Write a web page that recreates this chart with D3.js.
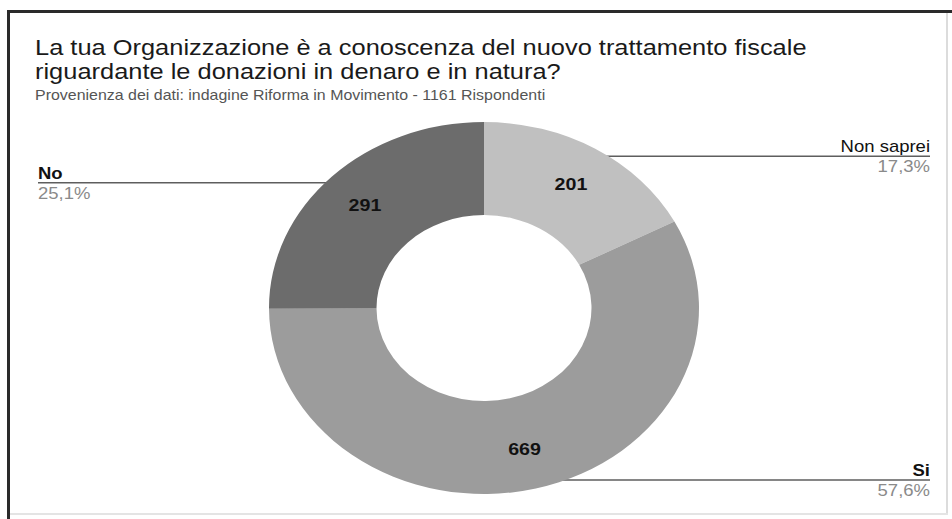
<!DOCTYPE html>
<html>
<head>
<meta charset="utf-8">
<script src="https://cdn.jsdelivr.net/npm/d3@7"></script>
<style>
  html, body { margin: 0; padding: 0; background: #ffffff; }
  svg { display: block; font-family: "Liberation Sans", Arial, Helvetica, sans-serif; }
</style>
</head>
<body>
<svg id="chart" width="952" height="519"></svg>
<script>
// Survey answers, clockwise from 12 o'clock
const categories = ["Non saprei", "Si", "No"];
const counts = [201, 669, 291];
const sliceColors = ["#c0c0c0", "#9c9c9c", "#6c6c6c"];
// Which side of the donut each category's callout goes to
const labelSides = ["right", "right", "left"];
const labelWeights = ["normal", "bold", "bold"];

const titleLines = [
  "La tua Organizzazione è a conoscenza del nuovo trattamento fiscale",
  "riguardante le donazioni in denaro e in natura?"
];
const subtitle = "Provenienza dei dati: indagine Riforma in Movimento - 1161 Rispondenti";

const W = 952, H = 519;
const cx = 484, cy = 308;
const outerR = 215, innerR = 107.5;
const squash = 0.865;          // vertical flattening of the whole drawing
const stretch = 1 / squash;    // matching horizontal widening of the lettering
const leaderR = 205;           // where callout lines meet the slice
const labelR = 168;            // radius of the in-slice value labels

const svg = d3.select("#chart");

// Place a text node at (x, y) with the widened lettering
function putText(sel, x, y) {
  return sel.attr("x", 0).attr("y", 0)
    .attr("transform", `translate(${x},${y}) scale(${stretch},1)`);
}

// Frame
svg.append("rect").attr("x", 0).attr("y", 0).attr("width", W).attr("height", H).attr("fill", "#ffffff");
svg.append("line").attr("x1", 947).attr("x2", 947).attr("y1", 12).attr("y2", 514)
  .attr("stroke", "#dcdcdc").attr("stroke-width", 2);
svg.append("line").attr("x1", 9).attr("x2", 948).attr("y1", 514).attr("y2", 514)
  .attr("stroke", "#e4e4e4").attr("stroke-width", 2);
svg.append("line").attr("x1", 7).attr("x2", W).attr("y1", 11.5).attr("y2", 11.5)
  .attr("stroke", "#2a2a2a").attr("stroke-width", 3);
svg.append("line").attr("x1", 8.5).attr("x2", 8.5).attr("y1", 10).attr("y2", H)
  .attr("stroke", "#2a2a2a").attr("stroke-width", 3);

// Title and subtitle
titleLines.forEach((line, i) => {
  putText(svg.append("text"), 35, 55 + i * 24)
    .attr("font-size", 22).attr("fill", "#1a1a1a")
    .text(line);
});
putText(svg.append("text"), 35, 100)
  .attr("font-size", 13.8).attr("fill", "#555555")
  .text(subtitle);

// Pie layout
const total = d3.sum(counts);
const data = categories.map((c, i) => ({
  name: c, value: counts[i], color: sliceColors[i], side: labelSides[i], weight: labelWeights[i]
}));
const pie = d3.pie().value(d => d.value).sort(null);
const arcs = pie(data);
const arc = d3.arc().innerRadius(innerR).outerRadius(outerR);

const pct = d3.format(".1%");
const fmtPct = v => pct(v).replace(".", ",");

// Position on the flattened donut for a given angle/radius
const pt = (a, r) => [cx + r * Math.sin(a), cy - r * Math.cos(a) * squash];

// Callout lines (drawn beneath the slices)
const callouts = svg.append("g");
arcs.forEach(a => {
  const mid = (a.startAngle + a.endAngle) / 2;
  const [x0, y0] = pt(mid, leaderR);
  const xEnd = a.data.side === "right" ? 930 : 38;
  callouts.append("line")
    .attr("x1", x0).attr("y1", y0).attr("x2", xEnd).attr("y2", y0)
    .attr("stroke", "#5e5e5e").attr("stroke-width", 1.5);
  const anchor = a.data.side === "right" ? "end" : "start";
  putText(callouts.append("text"), xEnd, y0 - 4)
    .attr("text-anchor", anchor).attr("font-size", 16).attr("fill", "#111111")
    .attr("font-weight", a.data.weight)
    .text(a.data.name);
  putText(callouts.append("text"), xEnd, y0 + 16)
    .attr("text-anchor", anchor).attr("font-size", 16).attr("fill", "#8a8a8a")
    .text(fmtPct(a.data.value / total));
});

// Donut
const donut = svg.append("g")
  .attr("transform", `translate(${cx},${cy}) scale(1,${squash})`);
donut.selectAll("path").data(arcs).join("path")
  .attr("d", arc)
  .attr("fill", d => d.data.color);

// Value labels inside the slices
const valueLabels = svg.append("g");
arcs.forEach(a => {
  const [x, y] = pt((a.startAngle + a.endAngle) / 2, labelR);
  putText(valueLabels.append("text"), x, y + 6)
    .attr("text-anchor", "middle")
    .attr("font-size", 17).attr("font-weight", "bold").attr("fill", "#111111")
    .text(a.data.value);
});
</script>
</body>
</html>
